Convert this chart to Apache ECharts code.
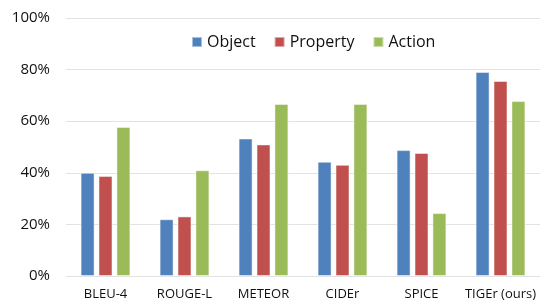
<!DOCTYPE html>
<html>
<head>
<meta charset="utf-8">
<script src="https://cdn.jsdelivr.net/npm/echarts@6/dist/echarts.min.js"></script>
<style>
  html, body { margin: 0; padding: 0; background: #fff; }
  #chart { width: 540px; height: 302px; }
</style>
</head>
<body>
<div id="chart"></div>
<script>
// 指标名称
var metrics = ['BLEU-4', 'ROUGE-L', 'METEOR', 'CIDEr', 'SPICE', 'TIGEr (ours)'];
// 各类别的数值 (%)
var objectVals = [40, 22, 53.3, 44.3, 48.8, 79.1];
var propertyVals = [38.8, 23.1, 51, 43.1, 47.7, 75.6];
var actionVals = [57.8, 41, 66.7, 66.7, 24.4, 67.8];
var yTicks = [0, 20, 40, 60, 80, 100];

var chart = echarts.init(document.getElementById('chart'));

var font = '"Open Sans", "DejaVu Sans", sans-serif';

function barSeries(name, data, color) {
    return {
        name: name,
        type: 'bar',
        data: data,
        barWidth: 14,
        barGap: '28%',
        itemStyle: { color: color, borderColor: 'rgba(255,255,255,0.5)', borderWidth: 1 }
    };
}

var option = {
    animation: false,
    grid: { left: 66, right: -6, top: 18, bottom: 26, containLabel: false },
    legend: {
        top: 29,
        left: 186,
        itemWidth: 10,
        itemHeight: 10,
        itemGap: 18,
        icon: 'rect',
        textStyle: { fontFamily: font, fontSize: 16, color: '#111' },
        data: ['Object', 'Property', 'Action']
    },
    xAxis: {
        type: 'category',
        data: metrics,
        axisLine: { show: false },
        axisTick: { show: false },
        axisLabel: { fontFamily: font, fontSize: 13, color: '#111', margin: 12, interval: 0 }
    },
    yAxis: {
        type: 'value',
        min: yTicks[0],
        max: yTicks[yTicks.length - 1],
        interval: 20,
        axisLabel: { formatter: '{value}%', fontFamily: font, fontSize: 15, color: '#111', margin: 16 },
        splitLine: { lineStyle: { color: '#e3e3e3', width: 1 } },
        axisLine: { show: false },
        axisTick: { show: false }
    },
    series: [
        barSeries('Object', objectVals, '#4F81BD'),
        barSeries('Property', propertyVals, '#C0504D'),
        barSeries('Action', actionVals, '#9BBB59')
    ]
};

chart.setOption(option);
</script>
</body>
</html>
